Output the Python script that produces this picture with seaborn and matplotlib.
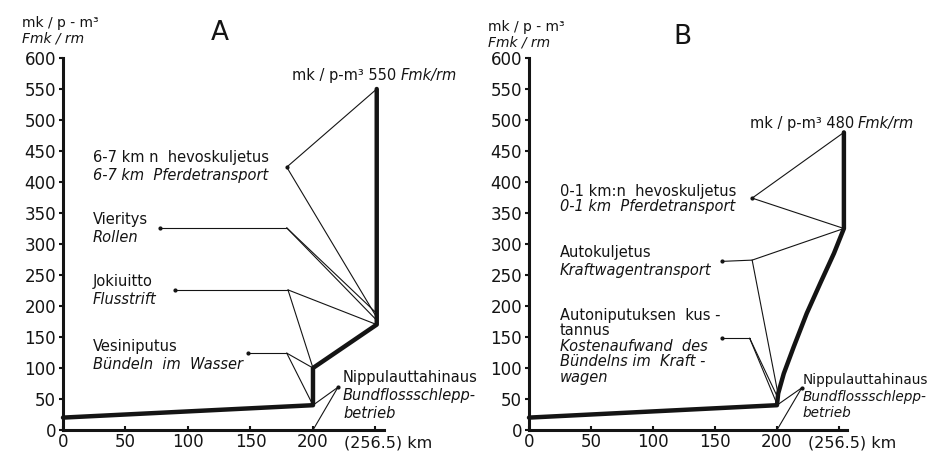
import matplotlib
matplotlib.use("Agg")
import matplotlib.pyplot as plt
import seaborn as sns
import pandas as pd

# ---- data ----
dist_a = [0, 200, 200, 251, 251]
cost_a = [20, 40, 100, 170, 550]
dist_b = [0, 200, 201, 205.5, 213.5, 224, 235, 246, 254, 254]
cost_b = [20, 40, 59, 91, 134, 188, 237, 285, 325, 480]

y_ticks = [0, 50, 100, 150, 200, 250, 300, 350, 400, 450, 500, 550, 600]
x_ticks = [0, 50, 100, 150, 200, 250]
x_tick_labels = ["0", "50", "100", "150", "200", ""]
x_end = 256.5
x_end_label = "(256.5) km"
unit_top = "mk / p - m³"
unit_bottom = "Fmk / rm"

labels_a = [
    ("6-7 km n  hevoskuljetus", "normal", 24, 440, 10.5),
    ("6-7 km  Pferdetransport", "italic", 24, 411, 10.5),
    ("Vieritys", "normal", 24, 340, 10.5),
    ("Rollen", "italic", 24, 310, 10.5),
    ("Jokiuitto", "normal", 24, 239, 10.5),
    ("Flusstrift", "italic", 24, 210, 10.5),
    ("Vesiniputus", "normal", 24, 135, 10.5),
    ("Bündeln  im  Wasser", "italic", 24, 106, 10.5),
    ("Nippulauttahinaus", "normal", 224, 84, 10.5),
    ("Bundflossschlepp-", "italic", 224, 55, 10.5),
    ("betrieb", "italic", 224, 27, 10.5),
]
labels_b = [
    ("0-1 km:n  hevoskuljetus", "normal", 25, 384, 10.5),
    ("0-1 km  Pferdetransport", "italic", 25, 360, 10.5),
    ("Autokuljetus", "normal", 25, 287, 10.5),
    ("Kraftwagentransport", "italic", 25, 258, 10.5),
    ("Autoniputuksen  kus -", "normal", 25, 185, 10.5),
    ("tannus", "normal", 25, 161, 10.5),
    ("Kostenaufwand  des", "italic", 25, 135, 10.5),
    ("Bündelns im  Kraft -", "italic", 25, 110, 10.5),
    ("wagen", "italic", 25, 84, 10.5),
    ("Nippulauttahinaus", "normal", 221, 81, 9.8),
    ("Bundflossschlepp-", "italic", 221, 53, 9.8),
    ("betrieb", "italic", 221, 27, 9.8),
]
peak_a = ("mk / p-m³ 550", "Fmk/rm", 183, 571)
peak_b = ("mk / p-m³ 480", "Fmk/rm", 178, 495)

# leader lines: (start dot, corner, targets)
leaders_a = [
    (None, (179, 424), [(dist_a[4], cost_a[4]), (250, 185)]),
    ((78, 326), (179, 326), [(250, 190), (250, 179)]),
    ((90, 226), (180, 226), [(dist_a[3], cost_a[3]), (dist_a[2], cost_a[2])]),
    ((148, 124), (179, 124), [(dist_a[2], cost_a[2]), (dist_a[1], cost_a[1])]),
    (None, (220, 69), [(dist_a[1], cost_a[1]), (200, 0)]),
]
leaders_b = [
    (None, (180, 374), [(dist_b[9], cost_b[9]), (dist_b[8], cost_b[8])]),
    ((156, 272), (180, 274), [(dist_b[8], cost_b[8]), (200.5, 62)]),
    ((156, 148), (178, 148), [(200, 55), (200, 42)]),
    (None, (220, 68), [(dist_b[1], cost_b[1]), (200, 0)]),
]

sns.set_theme(style="ticks")
plt.rcParams["font.family"] = ["DejaVu Sans"]
ink = "#141414"
FS = 10.5

fig = plt.figure(figsize=(9.33, 4.53), dpi=100)
W, H = 933, 453
ax_a = fig.add_axes([63 / W, 23 / H, (383.6 - 63) / W, 372 / H])
ax_b = fig.add_axes([529 / W, 23 / H, (847 - 529) / W, 372 / H])


def style_axes(ax):
    ax.set_xlim(0, x_end)
    ax.set_ylim(0, 600)
    for s in ("top", "right"):
        ax.spines[s].set_visible(False)
    for s in ("left", "bottom"):
        ax.spines[s].set_linewidth(2.2)
        ax.spines[s].set_color(ink)
    ax.set_yticks(y_ticks)
    ax.set_xticks(x_ticks)
    ax.set_xticklabels(x_tick_labels)
    ax.tick_params(axis="y", direction="out", length=3, width=1.5,
                   labelsize=12, pad=2, colors=ink)
    ax.tick_params(axis="x", direction="in", length=3, width=1.5,
                   labelsize=12, pad=2, colors=ink)
    ax.text(0.878, -0.036, x_end_label, transform=ax.transAxes,
            ha="left", va="center", fontsize=11.5, color=ink)


def draw_leaders(ax, leaders):
    for start, corner, targets in leaders:
        if start is not None:
            ax.plot([start[0], corner[0]], [start[1], corner[1]],
                    color=ink, lw=0.8, clip_on=False)
            ax.plot([start[0]], [start[1]], "o", ms=2, color=ink, clip_on=False)
        else:
            ax.plot([corner[0]], [corner[1]], "o", ms=2, color=ink, clip_on=False)
        for t in targets:
            ax.plot([corner[0], t[0]], [corner[1], t[1]],
                    color=ink, lw=0.8, clip_on=False)


def draw_labels(ax, labels, peak):
    for txt, st, x, y, fs in labels:
        ax.text(x, y, txt, fontsize=fs, style=st, ha="left", va="center",
                color=ink, clip_on=False)
    t1 = ax.text(peak[2], peak[3], peak[0], fontsize=FS, ha="left",
                 va="center", color=ink, clip_on=False)
    ax.annotate(peak[1], xy=(1, 0.5), xycoords=t1, xytext=(3, 0),
                textcoords="offset points", fontsize=FS, style="italic",
                ha="left", va="center", color=ink, annotation_clip=False)


df_a = pd.DataFrame({"km": dist_a, "cost": cost_a})
df_b = pd.DataFrame({"km": dist_b, "cost": cost_b})

for ax, df, leaders, labels, peak in ((ax_a, df_a, leaders_a, labels_a, peak_a),
                                       (ax_b, df_b, leaders_b, labels_b, peak_b)):
    style_axes(ax)
    draw_leaders(ax, leaders)
    sns.lineplot(data=df, x="km", y="cost", sort=False, estimator=None,
                 color=ink, lw=3.2, ax=ax, clip_on=False,
                 solid_joinstyle="round")
    draw_labels(ax, labels, peak)
    ax.set_xlabel("")
    ax.set_ylabel("")

# unit labels and panel letters
fig.text(22 / W, 1 - 23 / H, unit_top, fontsize=10, ha="left", va="center", color=ink)
fig.text(22 / W, 1 - 39 / H, unit_bottom, fontsize=10, style="italic",
         ha="left", va="center", color=ink)
fig.text(488 / W, 1 - 27 / H, unit_top, fontsize=10, ha="left", va="center", color=ink)
fig.text(488 / W, 1 - 43 / H, unit_bottom, fontsize=10, style="italic",
         ha="left", va="center", color=ink)
fig.text(220 / W, 1 - 33 / H, "A", fontsize=19, ha="center", va="center", color=ink)
fig.text(682 / W, 1 - 37 / H, "B", fontsize=19, ha="center", va="center", color=ink)

fig.savefig("out.png", dpi=100, facecolor="white")
